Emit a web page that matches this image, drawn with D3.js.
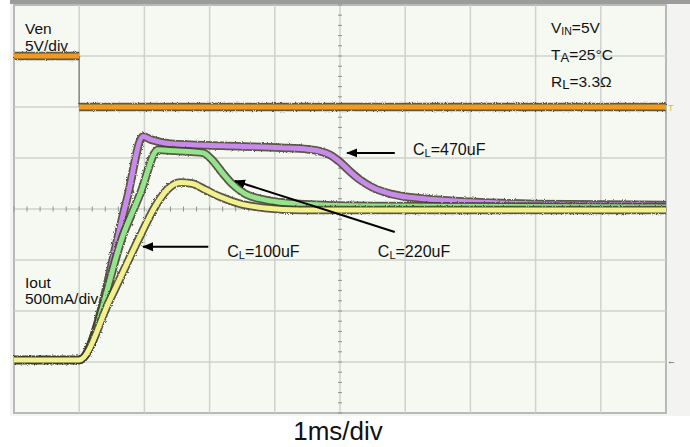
<!DOCTYPE html>
<html>
<head>
<meta charset="utf-8">
<script src="https://cdn.jsdelivr.net/npm/d3@7"></script>
<style>
  body { margin: 0; background: #fff; }
  text { font-family: "Liberation Sans", Arial, sans-serif; fill: #111; }
</style>
</head>
<body>
<div id="chart"></div>
<script>
// time in ms, Ven in V, Iout in A
var venT = [0, 1.0, 1.0, 10];
var venV = [5, 5, 0, 0];

var c470T = [0, 1.0, 1.73, 1.98, 2.1, 2.4, 3.2, 4.1, 4.5, 4.7, 4.85, 5.0, 5.15, 5.3, 5.5, 5.8, 6.3, 7.0, 8, 10];
var c470I = [0, 0, 1.57, 2.19, 2.16, 2.12, 2.10, 2.08, 2.065, 2.045, 2.01, 1.94, 1.85, 1.77, 1.69, 1.625, 1.58, 1.55, 1.53, 1.52];

var c220T = [0, 1.0, 1.70, 1.93, 2.21, 2.47, 2.90, 3.04, 3.19, 3.34, 3.54, 3.85, 4.39, 5.5, 10];
var c220I = [0, 0, 1.27, 1.62, 2.06, 2.05, 2.03, 1.96, 1.84, 1.73, 1.63, 1.57, 1.53, 1.51, 1.50];

var c100T = [0, 1.0, 1.47, 1.93, 2.16, 2.35, 2.55, 2.73, 2.93, 3.16, 3.47, 3.85, 4.39, 10];
var c100I = [0, 0, 0.59, 1.21, 1.50, 1.67, 1.74, 1.73, 1.67, 1.60, 1.53, 1.49, 1.47, 1.47];

var xDivs = 10, yDivs = 8;
var venZeroDiv = 6, venPerDiv = 5;
var ioutZeroDiv = 1.04, ioutPerDiv = 0.5;

var svg = d3.select("#chart").append("svg")
    .attr("width", 690).attr("height", 447);

var plotL = 14, plotR = 666, plotT = 5, plotB = 413;
var x = d3.scaleLinear().domain([0, xDivs]).range([plotL, plotR]);
var y = d3.scaleLinear().domain([0, yDivs]).range([plotB, plotT]);

var defs = svg.append("defs");
var f = defs.append("filter").attr("id", "rough").attr("filterUnits", "userSpaceOnUse")
    .attr("x", 0).attr("y", 0).attr("width", 690).attr("height", 447);
f.append("feTurbulence").attr("type", "fractalNoise").attr("baseFrequency", "0.9").attr("numOctaves", 2).attr("result", "n");
f.append("feDisplacementMap").attr("in", "SourceGraphic").attr("in2", "n").attr("scale", 3);
defs.append("marker").attr("id", "head")
    .attr("viewBox", "0 -5 10 10").attr("refX", 9).attr("refY", 0)
    .attr("markerWidth", 5.5).attr("markerHeight", 5.5).attr("markerUnits", "strokeWidth")
    .attr("orient", "auto")
  .append("path").attr("d", "M0,-4L10,0L0,4Z").attr("fill", "#000");

// screen frame
svg.append("rect").attr("x", 10).attr("y", 0).attr("width", 680).attr("height", 416).attr("fill", "#f3f4f1");
svg.append("rect").attr("x", 10).attr("y", 0).attr("width", 680).attr("height", 4).attr("fill", "#9c9c9c");
svg.append("rect").attr("x", plotL).attr("y", plotT).attr("width", plotR - plotL).attr("height", plotB - plotT)
    .attr("fill", "#f6f9f2").attr("stroke", "#b9b9b9").attr("stroke-width", 2);

var g = svg.append("g");
g.selectAll(".vgrid").data(d3.range(1, xDivs)).enter().append("line")
    .attr("x1", d => x(d)).attr("x2", d => x(d)).attr("y1", plotT).attr("y2", plotB)
    .attr("stroke", "#cfd1cc").attr("stroke-width", 1.5);
g.selectAll(".hgrid").data(d3.range(1, yDivs)).enter().append("line")
    .attr("y1", d => y(d)).attr("y2", d => y(d)).attr("x1", plotL).attr("x2", plotR)
    .attr("stroke", "#cfd1cc").attr("stroke-width", 1.5);

// minor ticks on the centre lines
g.selectAll(".xt").data(d3.range(0, xDivs * 5 + 1).map(i => i / 5)).enter().append("line")
    .attr("x1", d => x(d)).attr("x2", d => x(d))
    .attr("y1", y(yDivs / 2) - 2.5).attr("y2", y(yDivs / 2) + 2.5)
    .attr("stroke", "#8f918c").attr("stroke-width", 1);
g.selectAll(".yt").data(d3.range(0, yDivs * 5 + 1).map(i => i / 5)).enter().append("line")
    .attr("y1", d => y(d)).attr("y2", d => y(d))
    .attr("x1", x(xDivs / 2) - 2).attr("x2", x(xDivs / 2) + 2)
    .attr("stroke", "#8f918c").attr("stroke-width", 1);

function trace(ts, vs, toDiv, color, curve) {
  var pts = ts.map((t, i) => [x(t), y(toDiv(vs[i]))]);
  var line = d3.line().curve(curve);
  svg.append("path").attr("d", line(pts)).attr("fill", "none")
      .attr("stroke", "#3f3d2c").attr("stroke-width", 8.5).attr("stroke-linejoin", "round")
      .attr("filter", "url(#rough)").attr("opacity", 0.85);
  svg.append("path").attr("d", line(pts)).attr("fill", "none")
      .attr("stroke", color).attr("stroke-width", 5).attr("stroke-linejoin", "round");
}

var venDiv = v => venZeroDiv + v / venPerDiv;
var ioutDiv = a => ioutZeroDiv + a / ioutPerDiv;

// Ven step: thin vertical edge, thick flat parts
svg.append("line").attr("x1", x(venT[1])).attr("x2", x(venT[2]))
    .attr("y1", y(venDiv(venV[1]))).attr("y2", y(venDiv(venV[2])))
    .attr("stroke", "#8a8a80").attr("stroke-width", 1.5);
trace(venT.slice(0, 2), venV.slice(0, 2), venDiv, "#f39a1e", d3.curveLinear);
trace(venT.slice(2), venV.slice(2), venDiv, "#f39a1e", d3.curveLinear);

trace(c470T, c470I, ioutDiv, "#c98be9", d3.curveMonotoneX);
trace(c220T, c220I, ioutDiv, "#93e48c", d3.curveMonotoneX);
trace(c100T, c100I, ioutDiv, "#f3f08e", d3.curveMonotoneX);

// channel markers at the right edge
svg.append("text").attr("x", 668).attr("y", y(venDiv(0)) + 4).attr("font-size", 9)
    .style("fill", "#c9c23a").text("T");
svg.append("text").attr("x", 667).attr("y", y(ioutDiv(0)) + 4).attr("font-size", 9)
    .style("fill", "#444").text("←");

// annotations
var arrows = [
  { from: [5.84, 2.03], to: [5.11, 2.03] },
  { from: [5.84, 1.255], to: [3.39, 1.755] },
  { from: [2.98, 1.11], to: [1.98, 1.11] }
];
svg.selectAll(".arrow").data(arrows).enter().append("line")
    .attr("x1", d => x(d.from[0])).attr("y1", d => y(ioutDiv(d.from[1])))
    .attr("x2", d => x(d.to[0])).attr("y2", d => y(ioutDiv(d.to[1])))
    .attr("stroke", "#000").attr("stroke-width", 2).attr("marker-end", "url(#head)");

var capLabels = [
  { t: 6.12, a: 2.01, val: "470uF" },
  { t: 3.27, a: 1.01, val: "100uF" },
  { t: 5.58, a: 1.01, val: "220uF" }
];
capLabels.forEach(function(d) {
  var tx = svg.append("text").attr("x", x(d.t)).attr("y", y(ioutDiv(d.a))).attr("font-size", 16);
  tx.append("tspan").text("C");
  tx.append("tspan").attr("font-size", 11).attr("dy", 2).text("L");
  tx.append("tspan").attr("dy", -2).text("=" + d.val);
});

function label(xp, yp, txt) {
  svg.append("text").attr("x", xp).attr("y", yp).attr("font-size", 15.5).text(txt);
}
label(25, 34, "Ven");
label(25, 51, "5V/div");
label(25, 288, "Iout");
label(25, 304, "500mA/div");

var cond = [
  { main: "V", sub: "IN", rest: "=5V", yy: 33, subSize: 10.5 },
  { main: "T", sub: "A", rest: "=25°C", yy: 60, subSize: 13 },
  { main: "R", sub: "L", rest: "=3.3Ω", yy: 87, subSize: 13 }
];
cond.forEach(function(c) {
  var tx = svg.append("text").attr("x", 551).attr("y", c.yy).attr("font-size", 15.5);
  tx.append("tspan").text(c.main);
  tx.append("tspan").attr("font-size", c.subSize).attr("dy", 2).text(c.sub);
  tx.append("tspan").attr("dy", -2).text(c.rest);
});

svg.append("text").attr("x", 338).attr("y", 440).attr("text-anchor", "middle")
    .attr("font-size", 26).text("1ms/div");
</script>
</body>
</html>
